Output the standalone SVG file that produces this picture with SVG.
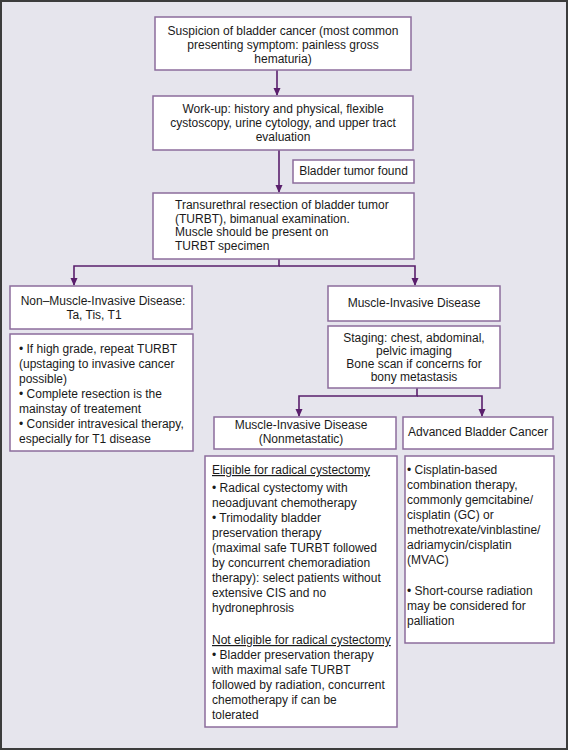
<svg xmlns="http://www.w3.org/2000/svg" width="568" height="750" viewBox="0 0 568 750">
<defs>
<marker id="ah" viewBox="0 0 8 8" refX="7" refY="4" markerWidth="8" markerHeight="8" markerUnits="userSpaceOnUse" orient="auto">
<path d="M0,0.5 L8,4 L0,7.5 Z" fill="#5a1f6c"/>
</marker>
<style>
.bx{fill:#ffffff;stroke:#8c6c9c;stroke-width:1.5}
.t{font-family:"Liberation Sans",Arial,sans-serif;font-size:12px;fill:#1a1a1a}
.c{text-anchor:middle}
.cn{fill:none;stroke:#5a1f6c;stroke-width:1.6}
.u{text-decoration:underline}
</style>
</defs>
<rect x="1" y="1" width="566" height="748" fill="#e6e5ed" stroke="#3c3c3c" stroke-width="2"/>

<g id="connectors">
<line class="cn" x1="277" y1="70" x2="277" y2="95" marker-end="url(#ah)"/>
<line class="cn" x1="279" y1="150" x2="279" y2="192" marker-end="url(#ah)"/>
<polyline class="cn" points="279,259 279,266 74,266 74,285" marker-end="url(#ah)"/>
<polyline class="cn" points="279,266 415,266 415,285" marker-end="url(#ah)"/>
<polyline class="cn" points="417,388 417,396 299,396 299,416" marker-end="url(#ah)"/>
<polyline class="cn" points="417,396 482,396 482,416" marker-end="url(#ah)"/>
</g>

<g id="n-suspicion">
<rect class="bx" x="155" y="17" width="256" height="53"/>
<text class="t c" x="283" y="35">Suspicion of bladder cancer (most common</text>
<text class="t c" x="283" y="49">presenting symptom: painless gross</text>
<text class="t c" x="283" y="63">hematuria)</text>
</g>

<g id="n-workup">
<rect class="bx" x="153" y="96" width="260" height="54"/>
<text class="t c" x="283" y="113">Work-up: history and physical, flexible</text>
<text class="t c" x="283" y="127">cystoscopy, urine cytology, and upper tract</text>
<text class="t c" x="283" y="141">evaluation</text>
</g>

<g id="n-found">
<rect class="bx" x="293" y="160" width="121" height="23"/>
<text class="t c" x="353.5" y="175">Bladder tumor found</text>
</g>

<g id="n-turbt">
<rect class="bx" x="153" y="193" width="261" height="66"/>
<text class="t" x="175" y="209">Transurethral resection of bladder tumor</text>
<text class="t" x="175" y="223">(TURBT), bimanual examination.</text>
<text class="t" x="175" y="236">Muscle should be present on</text>
<text class="t" x="175" y="250">TURBT specimen</text>
</g>

<g id="n-nmi">
<rect class="bx" x="10" y="286" width="182" height="43"/>
<text class="t c" x="103" y="305">Non–Muscle-Invasive Disease:</text>
<text class="t c" x="94" y="319">Ta, Tis, T1</text>
</g>

<g id="n-nmi-tx">
<rect class="bx" x="10" y="334" width="183" height="117"/>
<text class="t" x="19" y="353">• If high grade, repeat TURBT</text>
<text class="t" x="19" y="368">(upstaging to invasive cancer</text>
<text class="t" x="19" y="383">possible)</text>
<text class="t" x="19" y="398">• Complete resection is the</text>
<text class="t" x="19" y="413">mainstay of treatement</text>
<text class="t" x="19" y="428">• Consider intravesical therapy,</text>
<text class="t" x="19" y="443">especially for T1 disease</text>
</g>

<g id="n-mi">
<rect class="bx" x="328" y="286" width="172" height="35"/>
<text class="t c" x="414" y="307">Muscle-Invasive Disease</text>
</g>

<g id="n-staging">
<rect class="bx" x="328" y="326" width="172" height="62"/>
<text class="t c" x="414" y="342">Staging: chest, abdominal,</text>
<text class="t c" x="414" y="355">pelvic imaging</text>
<text class="t c" x="414" y="368">Bone scan if concerns for</text>
<text class="t c" x="414" y="381">bony metastasis</text>
</g>

<g id="n-nonmet">
<rect class="bx" x="214" y="417" width="182" height="32"/>
<text class="t c" x="301" y="429">Muscle-Invasive Disease</text>
<text class="t c" x="301" y="443">(Nonmetastatic)</text>
</g>

<g id="n-adv">
<rect class="bx" x="403" y="417" width="150" height="32"/>
<text class="t c" x="478" y="436">Advanced Bladder Cancer</text>
</g>

<g id="n-nonmet-tx">
<rect class="bx" x="205" y="456" width="192" height="271"/>
<text class="t u" x="212" y="474">Eligible for radical cystectomy</text>
<text class="t" x="212" y="492">• Radical cystectomy with</text>
<text class="t" x="212" y="507">neoadjuvant chemotherapy</text>
<text class="t" x="212" y="522">• Trimodality bladder</text>
<text class="t" x="212" y="537">preservation therapy</text>
<text class="t" x="212" y="552">(maximal safe TURBT followed</text>
<text class="t" x="212" y="567">by concurrent chemoradiation</text>
<text class="t" x="212" y="582">therapy): select patients without</text>
<text class="t" x="212" y="597">extensive CIS and no</text>
<text class="t" x="212" y="612">hydronephrosis</text>
<text class="t u" x="212" y="644">Not eligible for radical cystectomy</text>
<text class="t" x="212" y="659">• Bladder preservation therapy</text>
<text class="t" x="212" y="674">with maximal safe TURBT</text>
<text class="t" x="212" y="689">followed by radiation, concurrent</text>
<text class="t" x="212" y="704">chemotherapy if can be</text>
<text class="t" x="212" y="719">tolerated</text>
</g>

<g id="n-adv-tx">
<rect class="bx" x="405" y="456" width="149" height="187"/>
<text class="t" x="407" y="474">• Cisplatin-based</text>
<text class="t" x="407" y="489">combination therapy,</text>
<text class="t" x="407" y="504">commonly gemcitabine/</text>
<text class="t" x="407" y="519">cisplatin (GC) or</text>
<text class="t" x="407" y="534">methotrexate/vinblastine/</text>
<text class="t" x="407" y="549">adriamycin/cisplatin</text>
<text class="t" x="407" y="564">(MVAC)</text>
<text class="t" x="407" y="595">• Short-course radiation</text>
<text class="t" x="407" y="610">may be considered for</text>
<text class="t" x="407" y="625">palliation</text>
</g>
</svg>
